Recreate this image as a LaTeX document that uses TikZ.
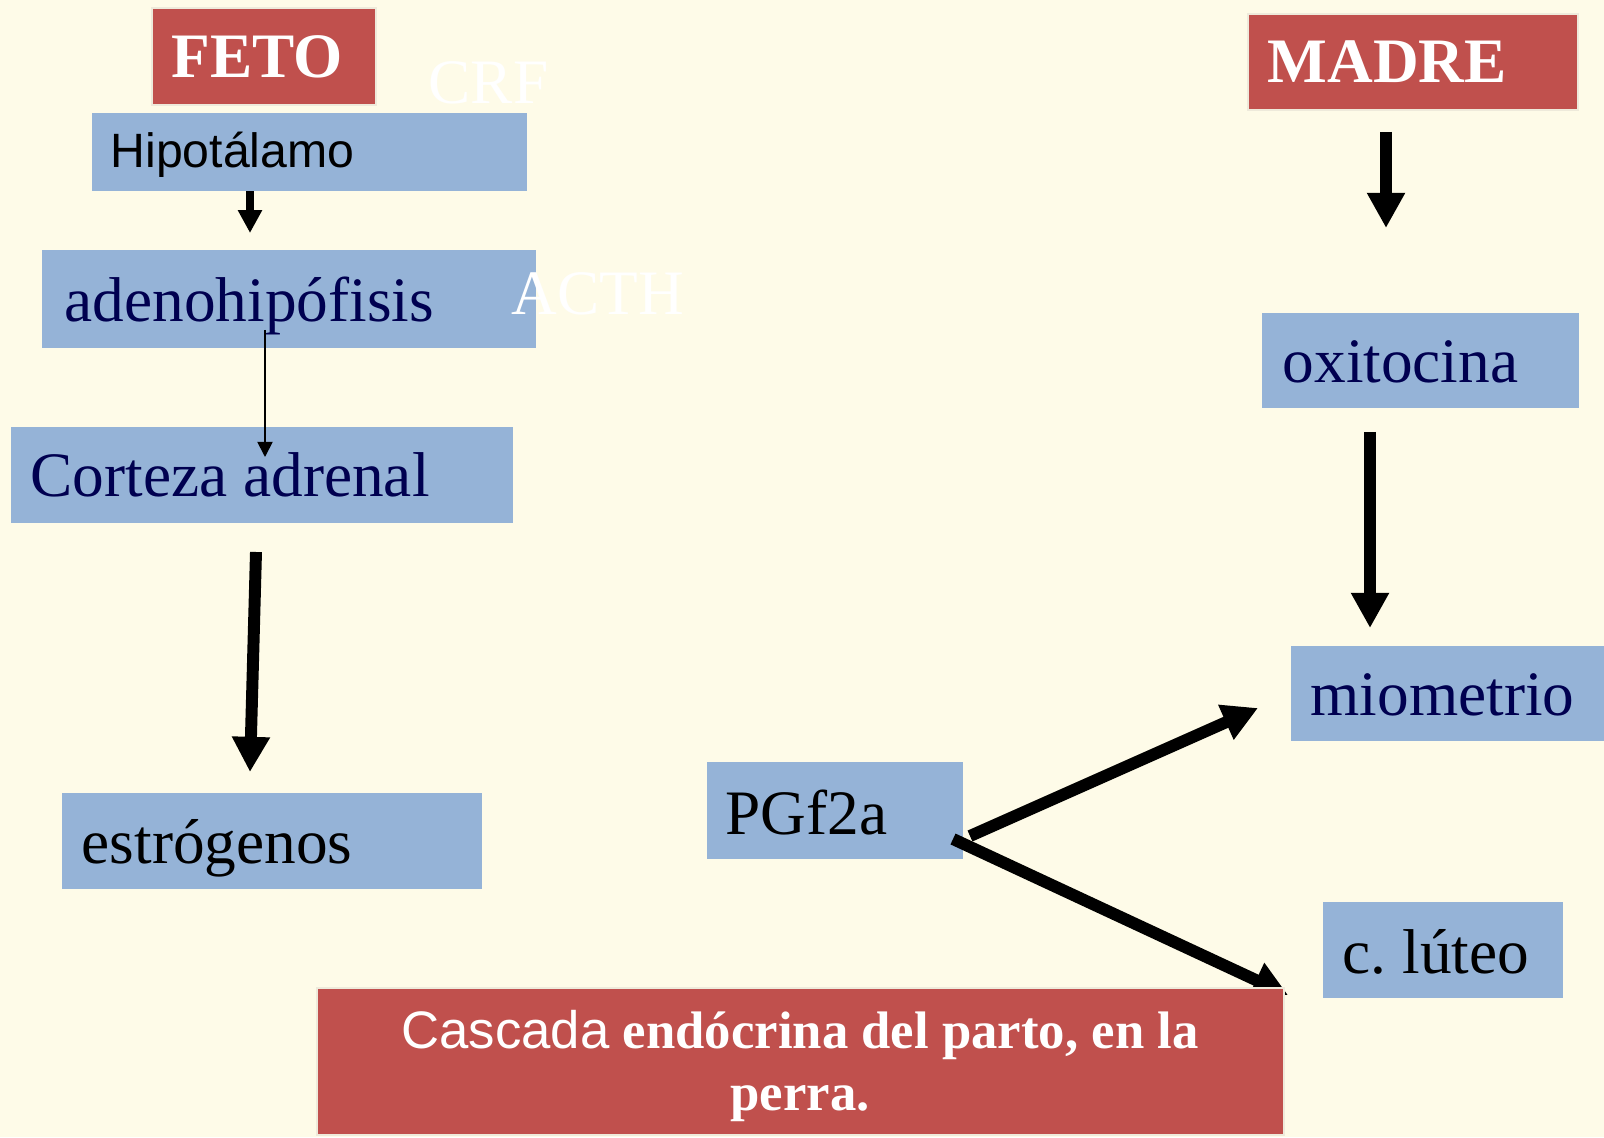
\documentclass[tikz,border=0pt]{standalone}
\usepackage{fontspec}
\setmainfont{Liberation Serif}
\newfontfamily\arialf{Liberation Sans}
\usetikzlibrary{arrows.meta}
\definecolor{bg}{HTML}{FEFBE8}
\definecolor{boxblue}{HTML}{95B3D7}
\definecolor{boxred}{HTML}{C0504D}
\definecolor{rededge}{HTML}{EEEADB}
\definecolor{navy}{HTML}{000050}
\tikzset{
  bluebox/.style={fill=boxblue, draw=none, inner sep=0pt, anchor=north west},
  redbox/.style={fill=boxred, draw=rededge, line width=0.6pt, inner sep=0pt, anchor=north west},
  lbl/.style={anchor=base west, inner sep=0pt, font=\fontsize{18}{21.6}\selectfont},
  bigarrow/.style={line width=3.4pt, -{Triangle[width=10.2pt,length=10pt]}},
  midarrow/.style={line width=2pt, -{Triangle[width=6.5pt,length=6.5pt]}},
  thinarrow/.style={line width=0.5pt, -{Triangle[width=4.3pt,length=4.3pt]}},
}
\frenchspacing
\begin{document}
\begin{tikzpicture}[x=0.01cm,y=-0.01cm]
\fill[bg] (0,0) rectangle (1604,1137);
\useasboundingbox (0,0) rectangle (1604,1137);

% boxes
\node[redbox, minimum width=2.24cm, minimum height=0.97cm] (feto) at (151,7) {};
\node[bluebox, minimum width=4.35cm, minimum height=0.78cm] (hipo) at (91,112) {};
\node[bluebox, minimum width=4.94cm, minimum height=0.98cm] (adeno) at (41,249) {};
\node[bluebox, minimum width=5.02cm, minimum height=0.96cm] (corteza) at (10,426) {};
\node[bluebox, minimum width=4.20cm, minimum height=0.96cm] (estro) at (61,792) {};
\node[bluebox, minimum width=2.56cm, minimum height=0.97cm] (pgf) at (706,761) {};
\node[redbox, minimum width=3.30cm, minimum height=0.96cm] (madre) at (1247,13) {};
\node[bluebox, minimum width=3.17cm, minimum height=0.95cm] (oxi) at (1261,312) {};
\node[bluebox, minimum width=3.14cm, minimum height=0.95cm] (mio) at (1290,645) {};
\node[bluebox, minimum width=2.40cm, minimum height=0.96cm] (luteo) at (1322,901) {};

% texts
\node[lbl, text=white, font=\fontsize{18}{21.6}\selectfont\bfseries] (fetoT) at (171,78) {FETO};
\node[lbl, text=black, font=\arialf\fontsize{13.7}{16}\selectfont] (hipoT) at (110,168) {Hipotálamo};
\node[lbl, text=navy] (adenoT) at (64,322) {adenohipófisis};
\node[lbl, text=navy] (cortezaT) at (30,497) {Corteza adrenal};
\node[lbl, text=black] (estroT) at (81,863) {estrógenos};
\node[lbl, text=black] (pgfT) at (725,834) {PGf2a};
\node[lbl, text=white, font=\fontsize{18}{21.6}\selectfont\bfseries] (madreT) at (1267,83) {MADRE};
\node[lbl, text=navy] (oxiT) at (1282,383) {oxitocina};
\node[lbl, text=navy] (mioT) at (1310,715) {miometrio};
\node[lbl, text=black] (luteoT) at (1342,973) {c.\ lúteo};
\node[lbl, text=white] (crf) at (428,104) {CRF};
\node[lbl, text=white] (acth) at (511,315) {ACTH};

% arrow end points
\coordinate (h1) at (250,233);
\coordinate (a0) at (265,330);
\coordinate (a1) at (265,457);
\coordinate (c0) at (256,552);
\coordinate (c1) at (250,772);
\coordinate (m0) at (1386,132);
\coordinate (m1) at (1386,228);
\coordinate (o0) at (1370,432);
\coordinate (o1) at (1370,628);
\coordinate (p0) at (970,836);
\coordinate (p1) at (1258,708);
\coordinate (q0) at (953,839);
\coordinate (q1) at (1288,995);

% connectors
\draw[midarrow] (hipo.south -| h1) -- (h1);
\draw[thinarrow] (a0) -- (a1);
\draw[bigarrow] (c0) -- (c1);
\draw[bigarrow] (m0) -- (m1);
\draw[bigarrow] (o0) -- (o1);
\draw[bigarrow] (p0) -- (p1);
\draw[bigarrow] (q0) -- (q1);

% caption box
\node[redbox, minimum width=9.66cm, minimum height=1.47cm] (casc) at (316,987) {};
\node[anchor=base, inner sep=0pt, text=white, font=\fontsize{15}{18}\selectfont] (casc1) at (800,1048) {{\arialf Cascada} \textbf{endócrina del parto, en la}};
\node[anchor=base, inner sep=0pt, text=white, font=\fontsize{15}{18}\selectfont\bfseries] (casc2) at (800,1110) {perra.};
\end{tikzpicture}
\end{document}
